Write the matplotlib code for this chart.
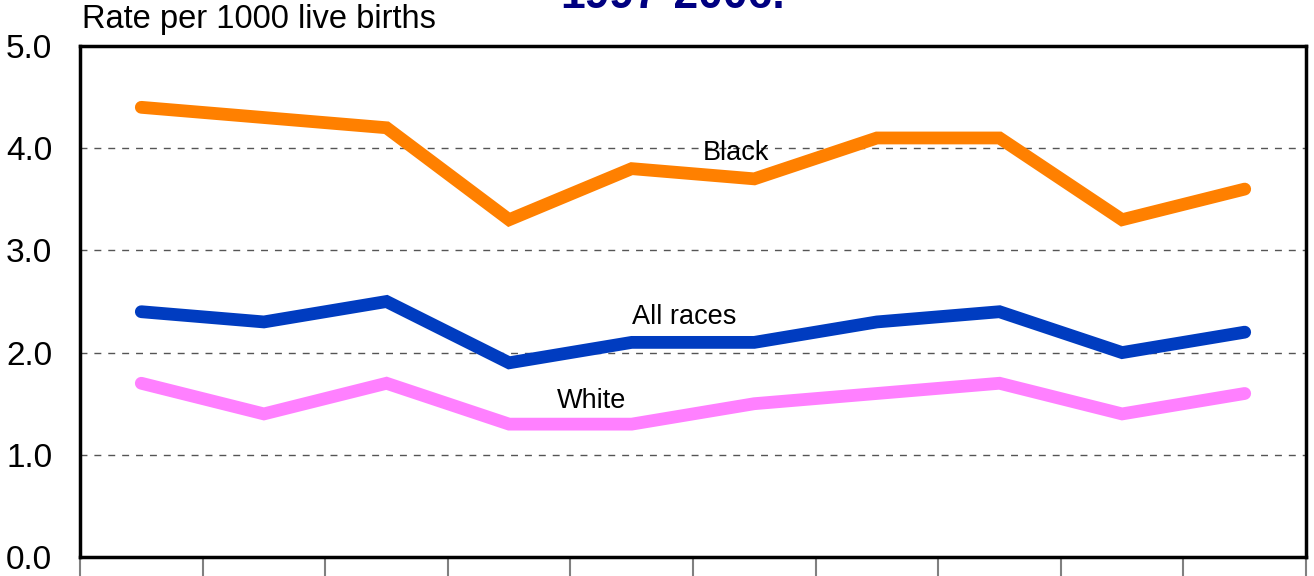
import numpy as np
import matplotlib.pyplot as plt

plt.rcParams['font.family'] = ['Liberation Sans', 'DejaVu Sans']

## Data
years = [1997, 1998, 1999, 2000, 2001, 2002, 2003, 2004, 2005, 2006]
black = [4.4, 4.3, 4.2, 3.3, 3.8, 3.7, 4.1, 4.1, 3.3, 3.6]
all_races = [2.4, 2.3, 2.5, 1.9, 2.1, 2.1, 2.3, 2.4, 2.0, 2.2]
white = [1.7, 1.4, 1.7, 1.3, 1.3, 1.5, 1.6, 1.7, 1.4, 1.6]
yticks = [0.0, 1.0, 2.0, 3.0, 4.0, 5.0]

fig = plt.figure(figsize=(13.14, 5.76), dpi=100)
ax = fig.add_axes([80/1314, 19/576, 1226/1314, 511/576])

x = np.arange(len(years))
line_kw = dict(lw=9.2, solid_capstyle='round', solid_joinstyle='miter', zorder=3)
ax.plot(x, black, color='#FF8000', **line_kw)
ax.plot(x, all_races, color='#003CC0', **line_kw)
ax.plot(x, white, color='#FF80FF', **line_kw)

# series labels
ax.text(4.85, 3.885, 'Black', ha='center', va='baseline', fontsize=19.5, zorder=4)
ax.text(4.43, 2.28, 'All races', ha='center', va='baseline', fontsize=19.5, zorder=4)
ax.text(3.67, 1.458, 'White', ha='center', va='baseline', fontsize=19.5, zorder=4)

ax.set_xlim(-0.5, len(years) - 0.5)
ax.set_ylim(0, 5)
ax.set_yticks(yticks)
ax.set_yticklabels([f'{v:.1f}' for v in yticks], fontsize=24)
ax.tick_params(axis='y', length=0, pad=20)

# ticks between categories
ax.set_xticks(np.arange(len(years) + 1) - 0.5)
ax.set_xticklabels([])
ax.tick_params(axis='x', direction='out', length=22, width=1.5, color='#808080')

for v in yticks[1:-1]:
    ax.axhline(v, color='#555555', lw=1, ls=(0, (5, 5)), zorder=1)

for s in ax.spines.values():
    s.set_linewidth(2.5)
    s.set_color('black')

fig.text(82/1314, 1 - 28/576, 'Rate per 1000 live births', fontsize=23.5, va='baseline', ha='left')
fig.text(673/1314, 1 - 8/576, '1997-2006.', fontsize=32, fontweight='bold',
         color='#000080', va='baseline', ha='center')

fig.savefig('out.png', dpi=100)
